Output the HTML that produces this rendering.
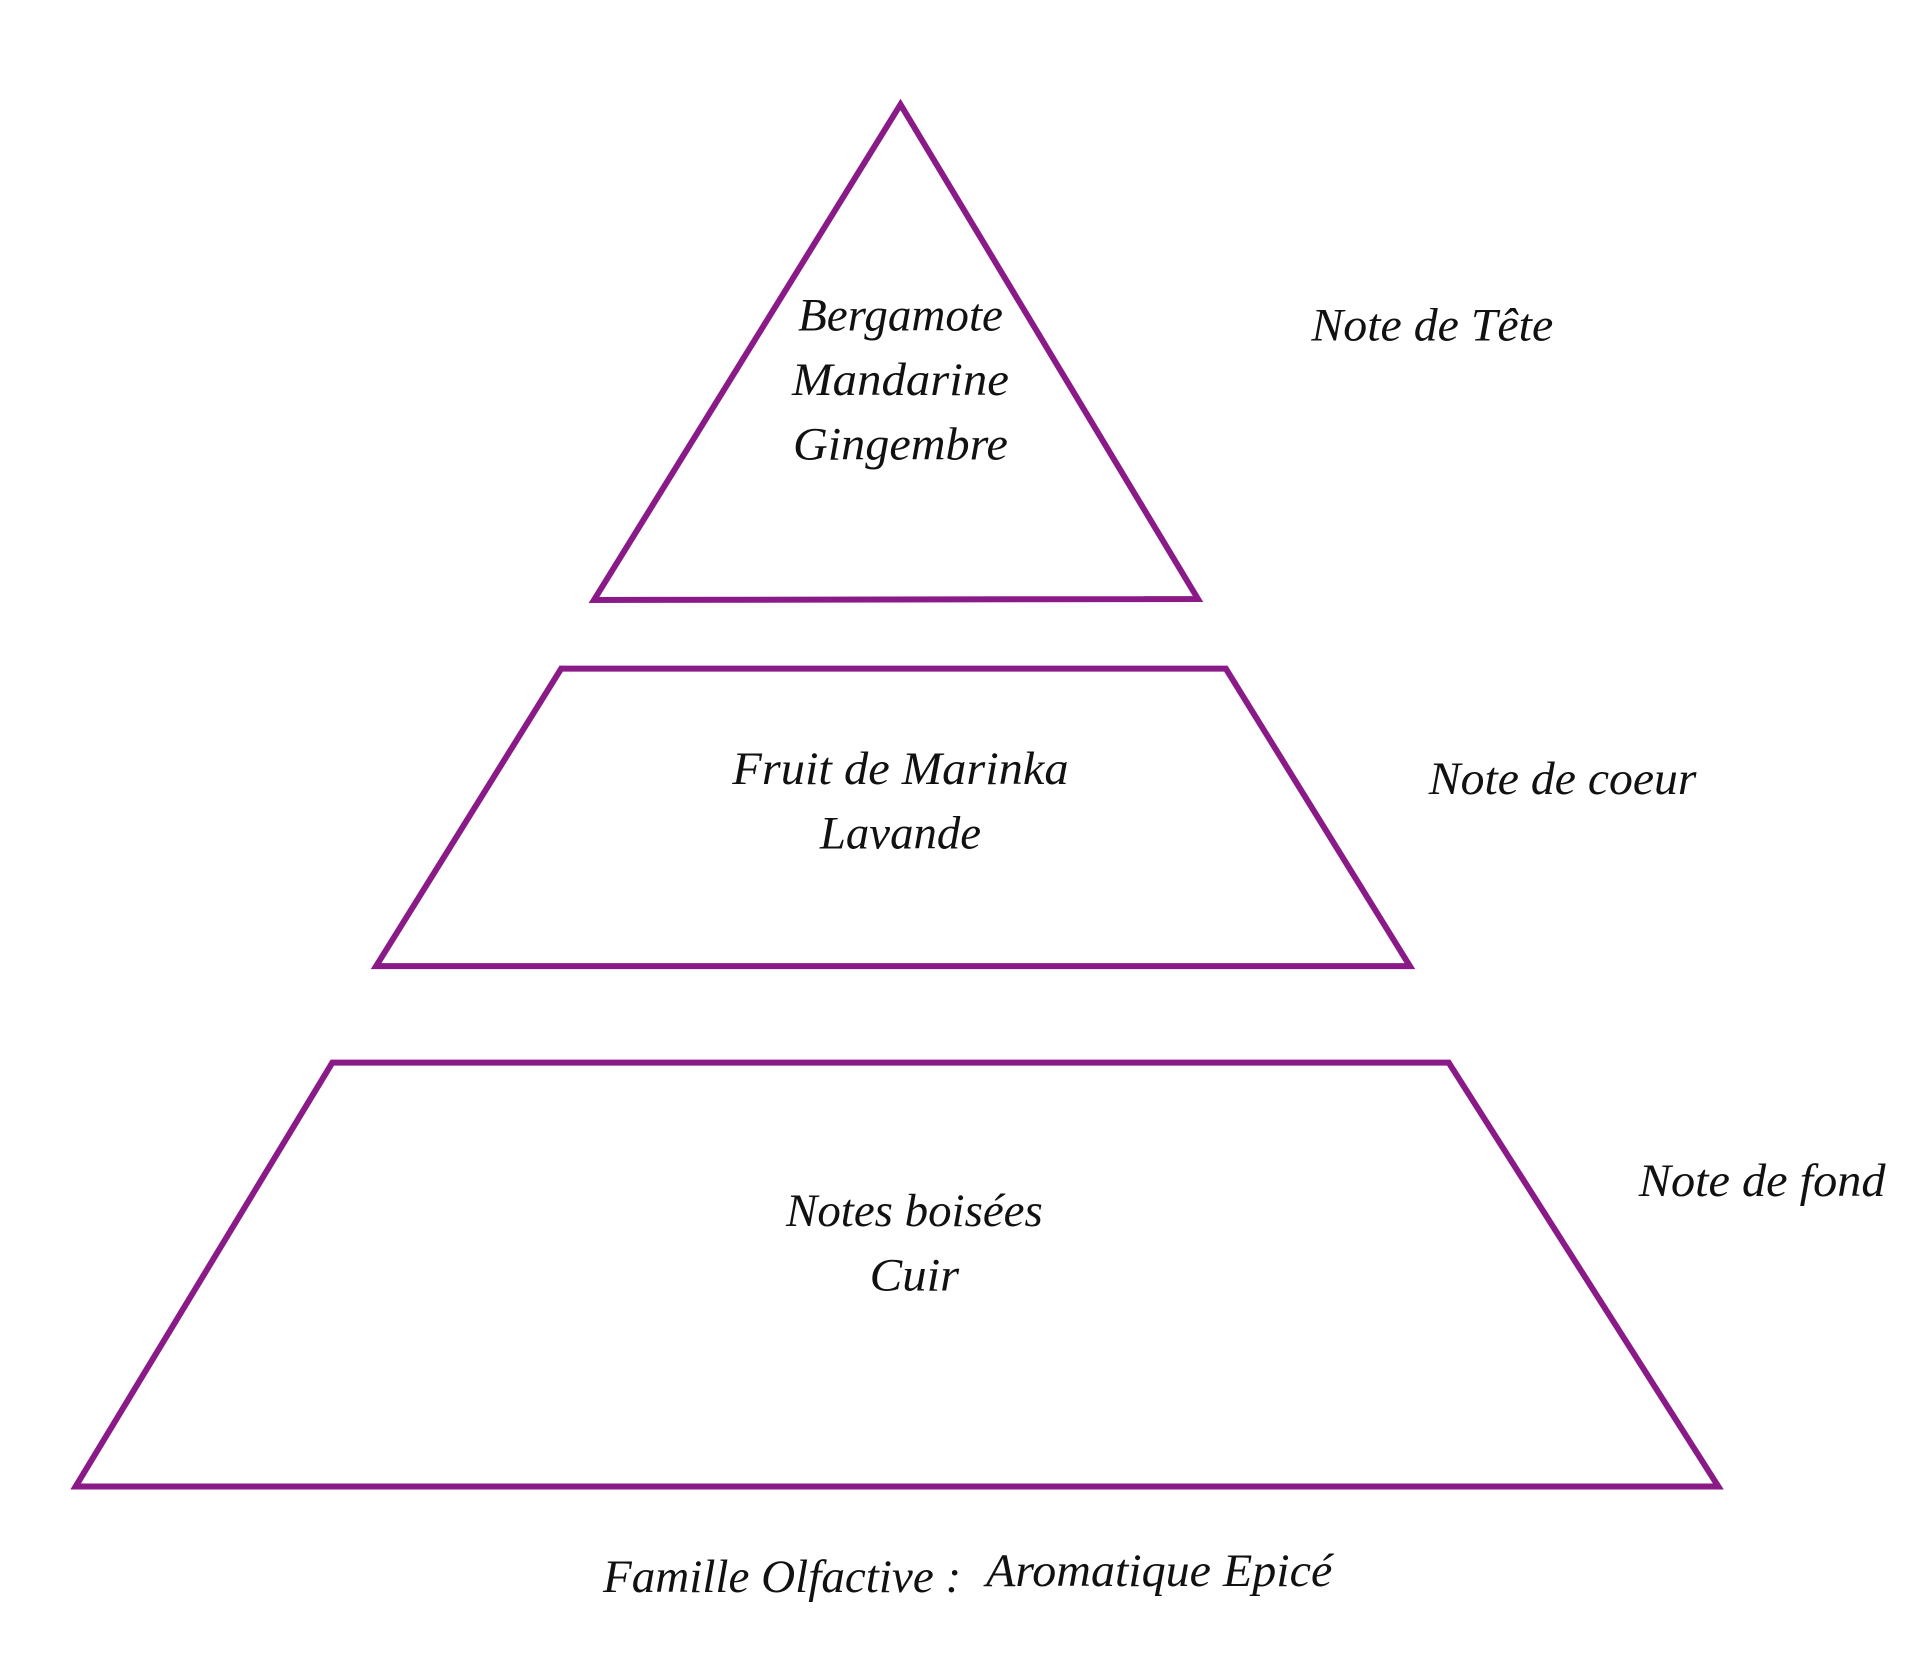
<!DOCTYPE html>
<html><head><meta charset="utf-8"><style>
html,body{margin:0;padding:0;background:#fff;}
svg{display:block;}
text{font-family:"Liberation Serif",serif;font-style:italic;fill:#111;font-size:47px;}
</style></head><body>
<svg width="1920" height="1660" viewBox="0 0 1920 1660" xmlns="http://www.w3.org/2000/svg">
<g transform="scale(0.995)">
<g fill="none" stroke="#8a1a88" stroke-width="6" stroke-linejoin="miter">
<polygon points="905,105 1204,602 597,603"/>
<polygon points="564,672 1232,672 1417,971 378,971"/>
<polygon points="334,1068 1456,1068 1727,1494 76,1494"/>
</g>
<g text-anchor="middle">
<text x="905" y="332" textLength="206" lengthAdjust="spacingAndGlyphs">Bergamote</text>
<text x="905" y="397" textLength="218" lengthAdjust="spacingAndGlyphs">Mandarine</text>
<text x="905" y="462" textLength="216" lengthAdjust="spacingAndGlyphs">Gingembre</text>
<text x="905" y="788" textLength="338" lengthAdjust="spacingAndGlyphs">Fruit de Marinka</text>
<text x="905" y="853" textLength="162" lengthAdjust="spacingAndGlyphs">Lavande</text>
<text x="919" y="1232" textLength="258" lengthAdjust="spacingAndGlyphs">Notes boisées</text>
<text x="919" y="1297" textLength="90" lengthAdjust="spacingAndGlyphs">Cuir</text>
</g>
<text x="1318" y="342" textLength="243" lengthAdjust="spacingAndGlyphs">Note de Tête</text>
<text x="1436" y="798" textLength="269" lengthAdjust="spacingAndGlyphs">Note de coeur</text>
<text x="1647" y="1202" textLength="248" lengthAdjust="spacingAndGlyphs">Note de fond</text>
<text x="606" y="1600" textLength="360" lengthAdjust="spacingAndGlyphs">Famille Olfactive :</text>
<text x="991" y="1594" textLength="348" lengthAdjust="spacingAndGlyphs">Aromatique Epicé</text>
</g>
</svg>
</body></html>
